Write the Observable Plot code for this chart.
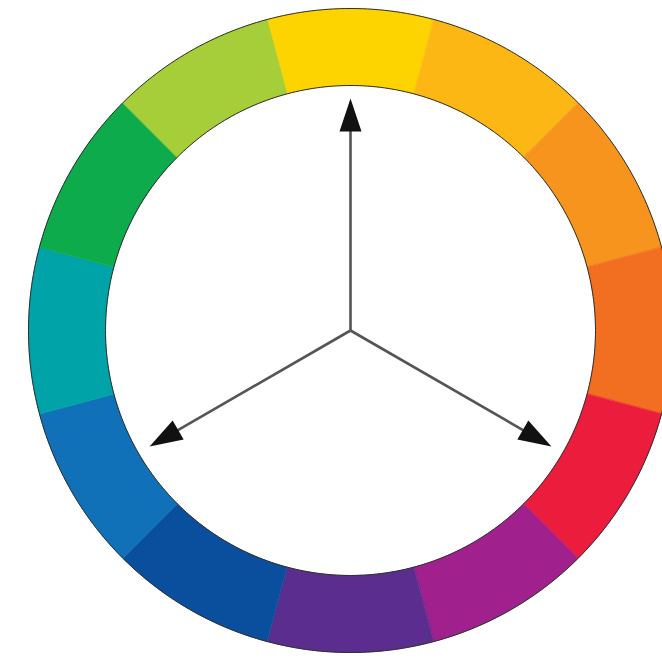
<!DOCTYPE html>
<html><head><meta charset="utf-8">
<script src="https://cdn.jsdelivr.net/npm/d3@7"></script>
<script src="https://cdn.jsdelivr.net/npm/@observablehq/plot@0.6"></script>
<style>body{margin:0;background:#fff}</style>
</head><body><div id="chart"></div>
<script>
// 12 hues clockwise from the top
const hues = ["yellow","yellow-orange","orange","red-orange","red","red-violet","violet","blue-violet","blue","blue-green","green","yellow-green"];
const hueColors = ["#FDD400","#FDB714","#F7941E","#F26F21","#EC1C3C","#A0218E","#5B2D8E","#0A4F9E","#1171B8","#00A3A7","#0DAB4B","#A6CE39"];
// arrow directions (degrees clockwise from top)
const arrowAngles = [0, 120, 240];

const R_OUT = 1, R_IN = 245/322, ARROW = 232/322;
const rad = d => d * Math.PI / 180;
const pt = (a, r) => ({x: r * Math.sin(rad(a)), y: r * Math.cos(rad(a))});

const step = 360 / hues.length;
const wedges = [];
hues.forEach((h, i) => {
  const a0 = i*step - step/2, a1 = i*step + step/2, n = 40;
  for (let k = 0; k <= n; k++) wedges.push({hue: h, ...pt(a0 + (a1-a0)*k/n, R_OUT)});
  for (let k = n; k >= 0; k--) wedges.push({hue: h, ...pt(a0 + (a1-a0)*k/n, R_IN)});
});
const ringEdges = [];
for (const [name, r] of [["outer", R_OUT], ["inner", R_IN]])
  for (let k = 0; k <= 360; k++) ringEdges.push({ring: name, ...pt(k, r)});

const chart = Plot.plot({
  width: 662, height: 658,
  margin: 0,
  x: {domain: [-350/322, 312/322], axis: null},
  y: {domain: [-328/322, 330/322], axis: null},
  color: {domain: hues, range: hueColors},
  marks: [
    Plot.line(wedges, {x: "x", y: "y", z: "hue", fill: "hue", stroke: "hue", strokeWidth: 0.6, curve: "linear-closed"}),
    Plot.line(ringEdges, {x: "x", y: "y", z: "ring", stroke: "#2e2e2e", strokeWidth: 1}),
    Plot.link(arrowAngles, {
      x1: () => 0, y1: () => 0,
      x2: a => pt(a, ARROW - 0.08).x, y2: a => pt(a, ARROW - 0.08).y,
      stroke: "#555", strokeWidth: 2.6
    }),
    Plot.vector(arrowAngles, {
      x: a => pt(a, ARROW).x, y: a => pt(a, ARROW).y,
      rotate: a => a, length: 33, r: 11, shape: "spike", anchor: "end",
      fill: "#111", stroke: "none"
    })
  ]
});
document.getElementById("chart").append(chart);
</script>
</body></html>
